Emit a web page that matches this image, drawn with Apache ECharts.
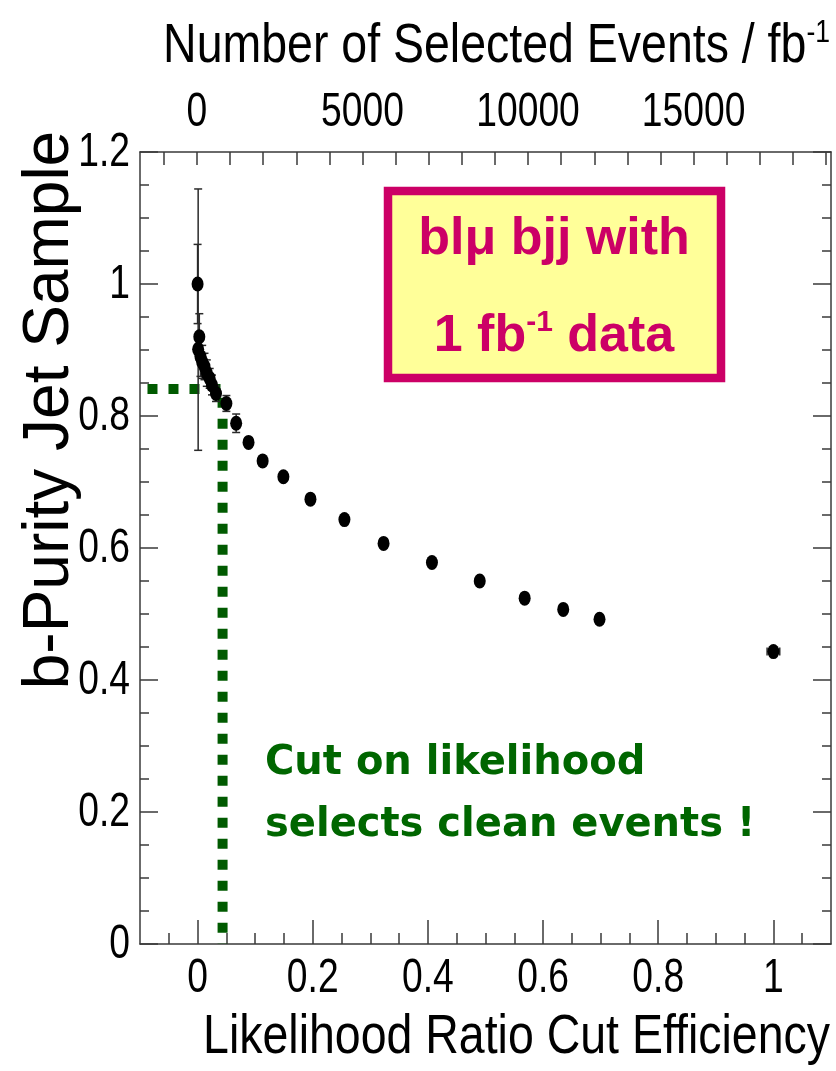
<!DOCTYPE html>
<html><head><meta charset="utf-8">
<script src="https://cdn.jsdelivr.net/npm/echarts@6/dist/echarts.min.js"></script>
<style>html,body{margin:0;padding:0;background:#fff}#c{width:836px;height:1071px}</style>
</head><body><div id="c"></div>
<script>
// ---- data ----
const efficiency    = [0.000, 0.003, 0.001, 0.005, 0.008, 0.012, 0.016, 0.021, 0.025, 0.032, 0.050, 0.067, 0.0885, 0.113, 0.149, 0.196, 0.255, 0.323, 0.407, 0.490, 0.568, 0.635, 0.698, 1.000];
const purity        = [1.000, 0.920, 0.901, 0.890, 0.882, 0.875, 0.865, 0.857, 0.847, 0.834, 0.819, 0.789, 0.760, 0.732, 0.708, 0.674, 0.643, 0.607, 0.578, 0.550, 0.524, 0.507, 0.492, 0.443];
const purityErrDown = [0.060, 0.035, 0.153, 0.030, 0.025, 0.020, 0.020, 0.015, 0.015, 0.012, 0.012, 0.014, 0.008, 0.005, 0.005, 0.005, 0.005, 0.005, 0.005, 0.005, 0.005, 0.005, 0.005, 0.004];
const purityErrUp   = [0.060, 0.035, 0.243, 0.030, 0.025, 0.020, 0.020, 0.015, 0.015, 0.012, 0.012, 0.014, 0.008, 0.005, 0.005, 0.005, 0.005, 0.005, 0.005, 0.005, 0.005, 0.005, 0.005, 0.004];
const efficiencyErr = [0, 0, 0, 0, 0, 0, 0, 0, 0, 0, 0, 0, 0, 0, 0, 0, 0, 0, 0, 0, 0, 0, 0, 0.011];

const cutLineX = [-0.087, 0.0434, 0.0434];
const cutLineY = [0.841, 0.841, 0];

const xTickLabels   = [0, 0.2, 0.4, 0.6, 0.8, 1];
const xMinorTicks   = [-0.05, 0.05, 0.1, 0.15, 0.25, 0.3, 0.35, 0.45, 0.5, 0.55, 0.65, 0.7, 0.75, 0.85, 0.9, 0.95, 1.05];
const yTickLabels   = [0, 0.2, 0.4, 0.6, 0.8, 1, 1.2];
const eventsLabels  = [0, 5000, 10000, 15000];
const eventsTicks   = [-1000, 0, 1000, 2000, 3000, 4000, 5000, 6000, 7000, 8000, 9000, 10000, 11000, 12000, 13000, 14000, 15000, 16000, 17000, 18000, 19000];

const xTitle   = 'Likelihood Ratio Cut Efficiency';
const yTitle   = 'b-Purity Jet Sample';
const topTitle = ['Number of Selected Events / fb', '-1'];
const boxLine1 = 'bl\u03bc bjj with';
const boxLine2 = ['1 fb', '-1', ' data'];
const noteText = 'Cut on likelihood\nselects clean events !';

// ---- chart ----
const SANS = "'Liberation Sans', Arial, sans-serif";
const frame = { color: '#3a3a3a', width: 1.5 };
const LABEL_SIZE = 49, LABEL_SCALE = 0.76;
const TITLE_SIZE = 56, TITLE_SCALE = 0.83;

const chart = echarts.init(document.getElementById('c'), null, { renderer: 'canvas' });

const errData = efficiency.map((e, i) => [e, purity[i], purity[i] - purityErrDown[i], purity[i] + purityErrUp[i], efficiencyErr[i]]);
const pointData = efficiency.map((e, i) => [e, purity[i]]);
const cutData = cutLineX.map((x, i) => [x, cutLineY[i]]);

function renderErr(params, api) {
  const x = api.value(0), y = api.value(1), lo = api.value(2), hi = api.value(3), xe = api.value(4);
  const style = { stroke: '#2a2a2a', lineWidth: 1.5 };
  const cap = 4;
  const ch = [];
  const a = api.coord([x, lo]), b = api.coord([x, hi]);
  if (a[1] - b[1] > 12) {
    ch.push({ type: 'line', shape: { x1: a[0], y1: a[1], x2: b[0], y2: b[1] }, style });
    ch.push({ type: 'line', shape: { x1: a[0] - cap, y1: a[1], x2: a[0] + cap, y2: a[1] }, style });
    ch.push({ type: 'line', shape: { x1: b[0] - cap, y1: b[1], x2: b[0] + cap, y2: b[1] }, style });
  }
  if (xe > 0) {
    const l = api.coord([x - xe, y]), r = api.coord([x + xe, y]);
    ch.push({ type: 'line', shape: { x1: l[0], y1: l[1], x2: r[0], y2: r[1] }, style });
    ch.push({ type: 'line', shape: { x1: l[0], y1: l[1] - cap, x2: l[0], y2: l[1] + cap }, style });
    ch.push({ type: 'line', shape: { x1: r[0], y1: r[1] - cap, x2: r[0], y2: r[1] + cap }, style });
  }
  return { type: 'group', children: ch };
}

// tick labels drawn at axis coordinates, horizontally condensed like the original
function tickLabel(dx, dy, align, valueIndex) {
  return function (params, api) {
    const p = api.coord([api.value(0), api.value(1)]);
    const v = api.value(valueIndex);
    return {
      type: 'text', x: p[0] + dx, y: p[1] + dy, scaleX: LABEL_SCALE,
      style: { text: String(+v.toFixed(1)), align: align, verticalAlign: 'middle',
               fontFamily: SANS, fontSize: LABEL_SIZE, fill: '#000' }
    };
  };
}

const option = {
  backgroundColor: '#ffffff',
  animation: false,
  grid: { left: 140, right: 5, top: 152, bottom: 127, containLabel: false },
  xAxis: [
    {
      type: 'value', position: 'bottom', min: -0.1, max: 1.1,
      axisLine: { show: true, onZero: false, lineStyle: frame },
      axisTick: { show: true, inside: true, length: 24, customValues: xTickLabels, lineStyle: frame },
      axisLabel: { show: false },
      splitLine: { show: false }
    },
    {
      type: 'value', position: 'top', min: -1720, max: 19150,
      axisLine: { show: true, onZero: false, lineStyle: frame },
      axisTick: { show: true, inside: true, length: 13, customValues: eventsTicks, lineStyle: frame },
      axisLabel: { show: false },
      splitLine: { show: false }
    },
    {
      type: 'value', position: 'bottom', offset: 0, min: -0.1, max: 1.1,
      axisLine: { show: false, onZero: false },
      axisTick: { show: true, inside: true, length: 11, customValues: xMinorTicks, lineStyle: frame },
      axisLabel: { show: false },
      splitLine: { show: false }
    }
  ],
  yAxis: [
    {
      type: 'value', position: 'left', min: 0, max: 1.2, interval: 0.2,
      axisLine: { show: true, onZero: false, lineStyle: frame },
      axisTick: { show: true, inside: true, length: 18, lineStyle: frame },
      minorTick: { show: true, splitNumber: 4, length: 9, lineStyle: frame },
      axisLabel: { show: false },
      splitLine: { show: false }
    },
    {
      type: 'value', position: 'right', min: 0, max: 1.2, interval: 0.2,
      axisLine: { show: true, onZero: false, lineStyle: frame },
      axisTick: { show: true, inside: true, length: 18, lineStyle: frame },
      minorTick: { show: true, splitNumber: 4, length: 9, lineStyle: frame },
      axisLabel: { show: false },
      splitLine: { show: false }
    }
  ],
  series: [
    {
      type: 'line', xAxisIndex: 0, yAxisIndex: 0, data: cutData, symbol: 'none', z: 2,
      lineStyle: { color: '#005a00', width: 10, type: [10, 11], cap: 'butt', join: 'miter' }
    },
    {
      type: 'custom', xAxisIndex: 0, yAxisIndex: 0, data: errData, renderItem: renderErr, z: 3,
      encode: { x: 0, y: 1 }
    },
    {
      type: 'scatter', xAxisIndex: 0, yAxisIndex: 0, data: pointData, z: 4,
      symbol: 'circle', symbolSize: [12, 15], itemStyle: { color: '#000', opacity: 1 }
    },
    // bottom axis labels
    {
      type: 'custom', xAxisIndex: 0, yAxisIndex: 0, clip: false, silent: true, z: 5,
      data: xTickLabels.map(v => [v, 0]), encode: { x: 0, y: 1 },
      renderItem: tickLabel(0, 34, 'center', 0)
    },
    // top axis labels
    {
      type: 'custom', xAxisIndex: 1, yAxisIndex: 0, clip: false, silent: true, z: 5,
      data: eventsLabels.map(v => [v, 1.2]), encode: { x: 0, y: 1 },
      renderItem: tickLabel(0, -40, 'center', 0)
    },
    // left axis labels
    {
      type: 'custom', xAxisIndex: 0, yAxisIndex: 0, clip: false, silent: true, z: 5,
      data: yTickLabels.map(v => [-0.1, v]), encode: { x: 0, y: 1 },
      renderItem: tickLabel(-10, 0, 'right', 1)
    }
  ],
  graphic: [
    { type: 'text', x: 830, y: 47, z: 10, scaleX: TITLE_SCALE,
      style: { text: '{t|' + topTitle[0] + '}{s|' + topTitle[1] + '}', align: 'right', verticalAlign: 'middle',
               rich: { t: { fontFamily: SANS, fontSize: TITLE_SIZE, lineHeight: 60, fill: '#000' },
                       s: { fontFamily: SANS, fontSize: 32, verticalAlign: 'top', fill: '#000' } } } },
    { type: 'text', x: 830, y: 1038, z: 10, scaleX: TITLE_SCALE,
      style: { text: xTitle, align: 'right', verticalAlign: 'middle', fontFamily: SANS, fontSize: TITLE_SIZE, fill: '#000' } },
    { type: 'text', x: 50, y: 410, rotation: Math.PI / 2, z: 10,
      style: { text: yTitle, align: 'center', verticalAlign: 'middle', fontFamily: SANS, fontSize: 64, fill: '#000' } },
    { type: 'rect', z: 20, shape: { x: 388, y: 191, width: 333, height: 187 },
      style: { fill: '#ffff99', stroke: '#cc0066', lineWidth: 8.5 } },
    { type: 'text', x: 554, y: 240, z: 21,
      style: { text: boxLine1, align: 'center', verticalAlign: 'middle', fontFamily: SANS, fontWeight: 'bold', fontSize: 52, fill: '#cc0066' } },
    { type: 'text', x: 554, y: 337, z: 21,
      style: { text: '{a|' + boxLine2[0] + '}{s|' + boxLine2[1] + '}{a|' + boxLine2[2] + '}', align: 'center', verticalAlign: 'middle',
               rich: { a: { fontFamily: SANS, fontWeight: 'bold', fontSize: 52, lineHeight: 58, fill: '#cc0066' },
                       s: { fontFamily: SANS, fontWeight: 'bold', fontSize: 30, verticalAlign: 'top', fill: '#cc0066' } } } },
    { type: 'text', x: 265, y: 795, z: 21,
      style: { text: noteText, align: 'left', verticalAlign: 'middle', fontFamily: "'DejaVu Sans', sans-serif", fontWeight: 'bold',
               fontSize: 40, lineHeight: 62, fill: '#006600' } }
  ]
};
chart.setOption(option);
</script></body></html>
